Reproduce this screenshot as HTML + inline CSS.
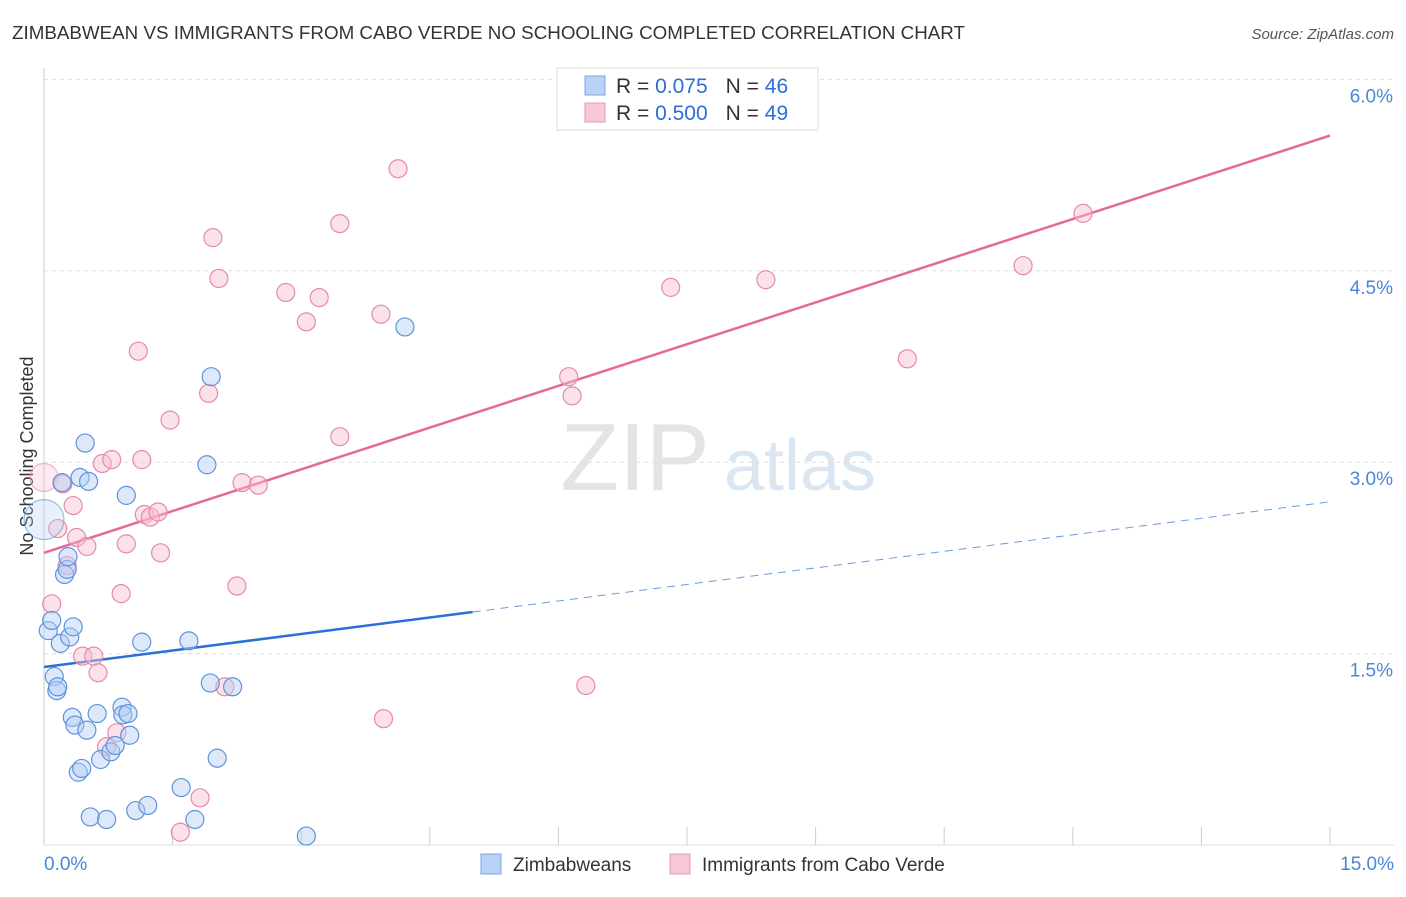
<!DOCTYPE html>
<html><head><meta charset="utf-8"><style>
body{margin:0;background:#fff;font-family:"Liberation Sans",sans-serif;}
svg text{font-family:"Liberation Sans",sans-serif;}
</style></head><body>
<svg width="1406" height="892" xmlns="http://www.w3.org/2000/svg">
<text x="12" y="39" font-size="18" fill="#333" textLength="953" lengthAdjust="spacingAndGlyphs">ZIMBABWEAN VS IMMIGRANTS FROM CABO VERDE NO SCHOOLING COMPLETED CORRELATION CHART</text>
<text x="1394" y="39" font-size="15" fill="#555" font-style="italic" text-anchor="end">Source: ZipAtlas.com</text>
<text x="33" y="456" font-size="18" fill="#333" text-anchor="middle" transform="rotate(-90 33 456)">No Schooling Completed</text>
<g><text x="635" y="490" font-size="96" fill="#e4e4e4" font-family="Liberation Serif" text-anchor="middle">ZIP</text><text x="800" y="490" font-size="72" fill="#dbe6f3" text-anchor="middle">atlas</text></g>
<g id="grid"></g><g id="lines"></g><g id="pts"></g>
<g>
<rect x="557" y="68" width="261" height="62" fill="#fff" stroke="#ddd"/>
<rect x="585" y="76" width="20" height="19" fill="#b8d3f5" stroke="#7aa6e0"/>
<rect x="585" y="103" width="20" height="19" fill="#f9c8d8" stroke="#e89ab5"/>
<text x="616" y="93" font-size="21" fill="#333">R = <tspan fill="#2b6fd6">0.075</tspan><tspan dx="18">N = </tspan><tspan fill="#2b6fd6">46</tspan></text>
<text x="616" y="120" font-size="21" fill="#333">R = <tspan fill="#2b6fd6">0.500</tspan><tspan dx="18">N = </tspan><tspan fill="#2b6fd6">49</tspan></text>
</g>
<g>
<rect x="481" y="854" width="20" height="20" fill="#b8d3f5" stroke="#7aa6e0"/>
<text x="513" y="871" font-size="19" fill="#333">Zimbabweans</text>
<rect x="670" y="854" width="20" height="20" fill="#f9c8d8" stroke="#e89ab5"/>
<text x="702" y="871" font-size="19" fill="#333">Immigrants from Cabo Verde</text>
</g>
</svg>
<script>
const yTicks=[1.5,3.0,4.5,6.0];
const yTickLabels=["1.5%","3.0%","4.5%","6.0%"];
const xTicks=[1.5,3,4.5,6,7.5,9,10.5,12,13.5,15];
const blueX=[0,0.05,0.09,0.12,0.15,0.16,0.19,0.21,0.24,0.27,0.28,0.30,0.34,0.33,0.36,0.40,0.42,0.44,0.48,0.50,0.52,0.54,0.62,0.66,0.73,0.78,0.83,0.91,0.92,0.96,0.98,1.0,1.07,1.14,1.21,1.60,1.69,1.76,1.90,1.94,1.95,2.02,2.20,3.06,4.21];
const blueY=[2.55,1.68,1.76,1.32,1.21,1.24,1.58,2.84,2.12,2.16,2.26,1.63,1.71,1.0,0.94,0.57,2.88,0.60,3.15,0.90,2.85,0.22,1.03,0.67,0.20,0.73,0.78,1.08,1.02,2.74,1.03,0.86,0.27,1.59,0.31,0.45,1.60,0.20,2.98,1.27,3.67,0.68,1.24,0.07,4.06];
const pinkX=[0,0.09,0.16,0.22,0.27,0.34,0.38,0.45,0.50,0.58,0.63,0.68,0.73,0.79,0.85,0.90,0.96,1.10,1.14,1.17,1.24,1.33,1.36,1.47,1.59,1.82,1.92,1.97,2.04,2.11,2.25,2.31,2.50,2.82,3.06,3.21,3.45,3.45,3.93,3.96,4.13,6.12,6.16,6.32,7.31,8.42,10.07,11.42,12.12];
const pinkY=[2.88,1.89,2.48,2.83,2.19,2.66,2.41,1.48,2.34,1.48,1.35,2.99,0.77,3.02,0.88,1.97,2.36,3.87,3.02,2.59,2.57,2.61,2.29,3.33,0.10,0.37,3.54,4.76,4.44,1.24,2.03,2.84,2.82,4.33,4.10,4.29,4.87,3.20,4.16,0.99,5.30,3.67,3.52,1.25,4.37,4.43,3.81,4.54,4.95];
const blueLine=[[0,1.395],[5.0,1.826]];
const blueDash=[[5.0,1.826],[15,2.69]];
const pinkLine=[[0,2.29],[15,5.56]];
const NS="http://www.w3.org/2000/svg";
const X=v=>44+v/15*1286, Y=v=>845-v*127.6;
function mk(t,a,p){const e=document.createElementNS(NS,t);for(const k in a)e.setAttribute(k,a[k]);p.appendChild(e);return e;}
const g=document.getElementById('grid');
mk('line',{x1:44,y1:68,x2:44,y2:845,stroke:'#ccc'},g);
mk('line',{x1:44,y1:845,x2:1394,y2:845,stroke:'#ddd'},g);
yTicks.forEach((t,i)=>{
 const l=mk('line',{x1:44,y1:Y(t),x2:1394,y2:Y(t),stroke:'#ddd','stroke-dasharray':'4,4'},g);
 
 
 const tx=mk('text',{x:1393,y:Y(t)+23,'font-size':19,fill:'#4a86d8','text-anchor':'end'},g);
 tx.textContent=yTickLabels[i];
 
 
});
xTicks.forEach(t=>{const l=mk('line',{x1:X(t),y1:827,x2:X(t),y2:845,stroke:'#ccc'},g);
 
 });
const x0=mk('text',{x:44,y:870,'font-size':19,fill:'#4a86d8'},g);x0.textContent='0.0%';


const x1=mk('text',{x:1394,y:870,'font-size':19,fill:'#4a86d8','text-anchor':'end'},g);x1.textContent='15.0%';


const pg=document.getElementById('pts');
function pts(xs,ys,fill,stroke,name){xs.forEach((x,i)=>{const big=(x===0&&i===0);const r=big?(name==='blue-point'?20:14):9;
 const c=mk('circle',{cx:X(x),cy:Y(ys[i]),r:r,fill:fill,'fill-opacity':big?0.3:0.45,stroke:stroke,'stroke-width':1.2,'stroke-opacity':big?0.6:1},pg);
 
 });}
pts(pinkX,pinkY,'#f7bcd0','#e58aab','pink-point');
pts(blueX,blueY,'#b3cff3','#5e93dc','blue-point');
const lg=document.getElementById('lines');
function ln(p,col,dash,name){const l=mk('line',{x1:X(p[0][0]),y1:Y(p[0][1]),x2:X(p[1][0]),y2:Y(p[1][1]),stroke:col,'stroke-width':dash?1:2.5},lg);
 if(dash)l.setAttribute('stroke-dasharray','8,6');
 
 }
ln(pinkLine,'#e5689a',false,'pink-trend-line');
ln(blueLine,'#2a70d8',false,'blue-trend-line');
ln(blueDash,'#6b9be0',true,'blue-trend-extension');
</script>
</body></html>
